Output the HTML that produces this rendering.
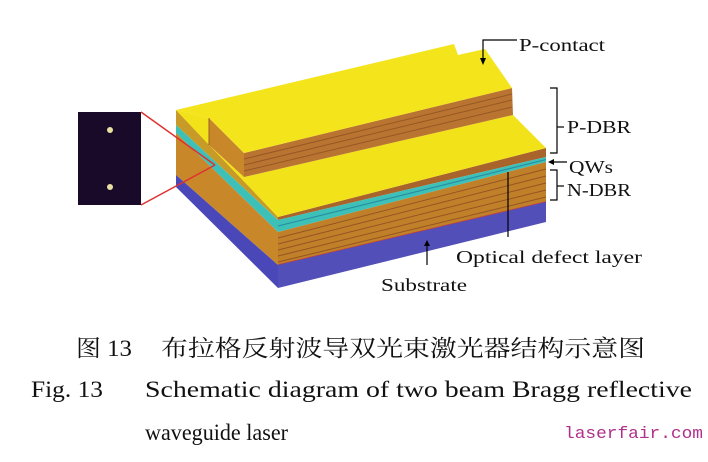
<!DOCTYPE html>
<html><head><meta charset="utf-8"><style>
html,body{margin:0;padding:0;background:#fff;}
svg{display:block;}
</style></head><body>
<svg width="708" height="462" viewBox="0 0 708 462" xmlns="http://www.w3.org/2000/svg">
<rect width="708" height="462" fill="#fff"/>
<!-- left face -->
<polygon points="176,110 278,217 278,220 176,125" fill="#c89a28"/>
<polygon points="176,125 278,220 278,232 176,133" fill="#3cc0b8"/>
<polygon points="176,133 278,232 278,265 176,175" fill="#c8882a"/>
<polygon points="176,175 278,265 278,288 176,187" fill="#4a48b8"/>
<!-- front face -->
<polygon points="278,217 546,148 546,157 278,220" fill="#a8642a"/>
<polygon points="278,220 546,157 546,162 278,232" fill="#3cc0b8"/>
<line x1="278" y1="226" x2="546" y2="159.5" stroke="#2a8aa0" stroke-width="1"/>
<polygon points="278,232 546,162 546,202 278,265" fill="#c0802a"/>
<g stroke="#8a4a20" stroke-width="1" opacity="0.8">
<line x1="278" y1="238" x2="546" y2="169"/>
<line x1="278" y1="244" x2="546" y2="176"/>
<line x1="278" y1="250" x2="546" y2="183"/>
<line x1="278" y1="256" x2="546" y2="190"/>
<line x1="278" y1="262" x2="546" y2="197"/>
</g>
<line x1="278" y1="265" x2="546" y2="202" stroke="#c04040" stroke-width="1.5"/>
<polygon points="278,265 546,202 546,222 278,288" fill="#5250b8"/>
<!-- lower yellow face -->
<polygon points="209,145 244,177 513,115 546,148 278,217" fill="#f2e21a"/>
<polygon points="176,110 209,118 209,145" fill="#f2e21a"/>
<!-- ridge end face -->
<polygon points="209,118 244,153 244,177 209,145" fill="#c8882a"/>
<!-- ridge front face -->
<polygon points="244,153 512,88 513,115 244,177" fill="#b87430"/>
<g stroke="#8a4a20" stroke-width="1" opacity="0.7">
<line x1="244" y1="159" x2="512" y2="94"/>
<line x1="244" y1="165" x2="512" y2="100"/>
<line x1="244" y1="171" x2="512" y2="107"/>
</g>
<!-- top yellow -->
<polygon points="176,110 454,44 458,55 485,49 512,88 244,153 209,118" fill="#f4e41c"/>
<line x1="209" y1="118" x2="209" y2="145" stroke="#9a6020" stroke-width="1"/>
<!-- inset -->
<rect x="78" y="112" width="63" height="93" fill="#1a0a2a"/>
<circle cx="110" cy="130" r="3" fill="#e8e0a0"/>
<circle cx="110" cy="187" r="3" fill="#e8e0a0"/>
<line x1="141" y1="112" x2="215" y2="165" stroke="#e03030" stroke-width="1.5"/>
<line x1="141" y1="205" x2="215" y2="165" stroke="#e03030" stroke-width="1.5"/>
<!-- labels -->
<g stroke="#000" stroke-width="1.2" fill="none">
<polyline points="483,60 483,40 517,40"/>
<polyline points="550,88 557,88 557,153 550,153"/>
<line x1="557" y1="127" x2="564" y2="127"/>
<line x1="550" y1="162" x2="567" y2="162"/>
<polyline points="550,170 557,170 557,200 550,200"/>
<line x1="557" y1="186" x2="564" y2="186"/>
<line x1="508" y1="172" x2="508" y2="237"/>
<line x1="427" y1="245" x2="427" y2="265"/>
</g>
<polygon points="480,58 486,58 483,65" fill="#000"/>
<polygon points="548,162 554,159 554,165" fill="#000"/>
<polygon points="424,246 430,246 427,240" fill="#000"/>
<g font-family="Liberation Serif, serif" font-size="18" fill="#111">
<text x="519" y="51" textLength="86" lengthAdjust="spacingAndGlyphs">P-contact</text>
<text x="567" y="133" textLength="64" lengthAdjust="spacingAndGlyphs">P-DBR</text>
<text x="569" y="173" textLength="44" lengthAdjust="spacingAndGlyphs">QWs</text>
<text x="567" y="196" textLength="64" lengthAdjust="spacingAndGlyphs">N-DBR</text>
<text x="456" y="263" textLength="186" lengthAdjust="spacingAndGlyphs">Optical defect layer</text>
<text x="381" y="291" textLength="86" lengthAdjust="spacingAndGlyphs">Substrate</text>
</g>
<g font-family="Liberation Serif, 'Noto Serif CJK SC', serif" font-size="23" fill="#111">
<text x="76" y="356" textLength="56" lengthAdjust="spacingAndGlyphs">图 13</text>
<text x="161" y="356" textLength="484" lengthAdjust="spacingAndGlyphs">布拉格反射波导双光束激光器结构示意图</text>
<text x="31" y="397" textLength="72" lengthAdjust="spacingAndGlyphs">Fig. 13</text>
<text x="145" y="397" textLength="547" lengthAdjust="spacingAndGlyphs">Schematic diagram of two beam Bragg reflective</text>
<text x="145" y="440" textLength="143" lengthAdjust="spacingAndGlyphs">waveguide laser</text>
</g>
<text x="564" y="438" font-family="Liberation Mono, monospace" font-size="17" fill="#b0308a" textLength="139" lengthAdjust="spacingAndGlyphs">laserfair.com</text>
</svg>
</body></html>
